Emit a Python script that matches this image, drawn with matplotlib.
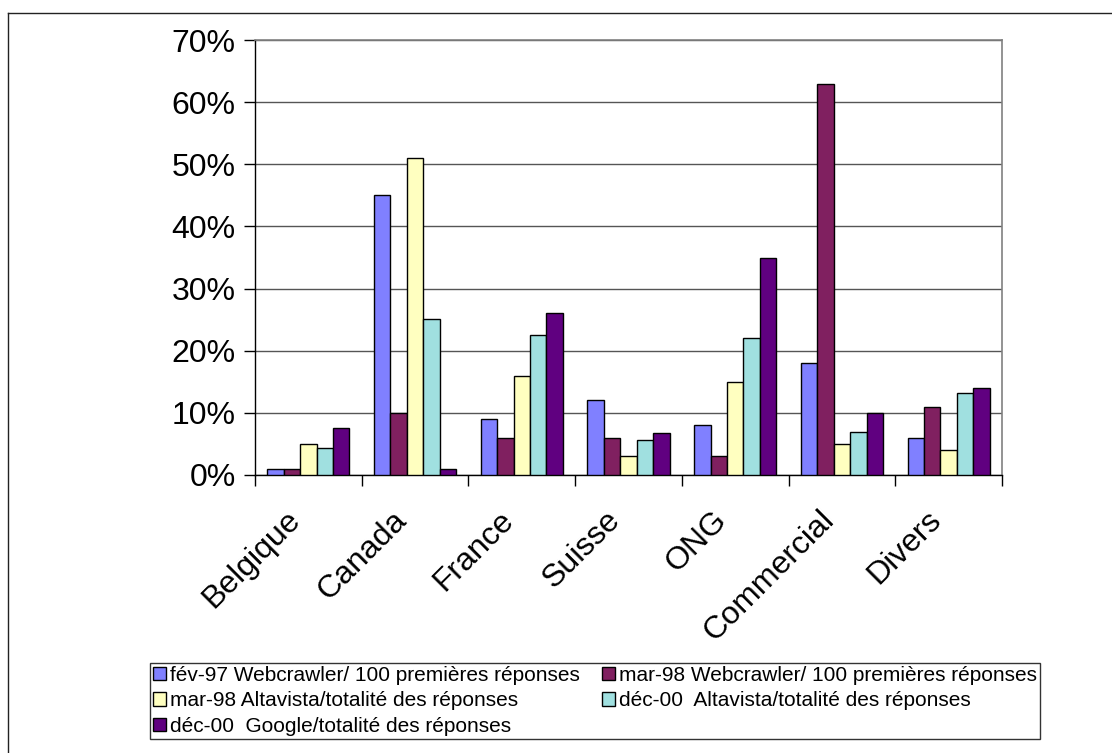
import matplotlib
matplotlib.use("Agg")
import matplotlib.pyplot as plt
import matplotlib.transforms as mtransforms
import numpy as np
from matplotlib.patches import Patch
from matplotlib.lines import Line2D
from matplotlib.ticker import FuncFormatter, MultipleLocator

plt.rcParams['font.family'] = ['Liberation Sans', 'DejaVu Sans']

categories = ["Belgique", "Canada", "France", "Suisse", "ONG", "Commercial", "Divers"]
series_labels = [
    "fév-97 Webcrawler/ 100 premières réponses",
    "mar-98 Webcrawler/ 100 premières réponses",
    "mar-98 Altavista/totalité des réponses",
    "déc-00  Altavista/totalité des réponses",
    "déc-00  Google/totalité des réponses",
]
fev97_webcrawler = [1, 45, 9, 12, 8, 18, 6]
mar98_webcrawler = [1, 10, 6, 6, 3, 63, 11]
mar98_altavista = [5, 51, 16, 3, 15, 5, 4]
dec00_altavista = [4.3, 25.1, 22.6, 5.6, 22, 7, 13.2]
dec00_google = [7.5, 1, 26, 6.8, 35, 10, 14]
series_values = [fev97_webcrawler, mar98_webcrawler, mar98_altavista,
                 dec00_altavista, dec00_google]
colors = ["#8080FF", "#802060", "#FFFFC0", "#A0E0E0", "#600080"]

W, H = 1112, 753
fig = plt.figure(figsize=(W / 100, H / 100), dpi=100)
fig.patch.set_facecolor("white")

# outer chart frame (top and left edges)
fig.add_artist(Line2D([8 / W, 1.0], [1 - 13 / H, 1 - 13 / H], color="#222222", lw=1.0))
fig.add_artist(Line2D([8 / W, 8 / W], [1 - 13 / H, 0.0], color="#222222", lw=1.0))

ax = fig.add_axes([255 / W, 1 - 475 / H, (1002 - 255) / W, (475 - 40) / H])

n = len(series_values)
bar_w = 1.0 / (n + 1.5)
x = np.arange(len(categories))
for i, (vals, col) in enumerate(zip(series_values, colors)):
    offs = (i - (n - 1) / 2) * bar_w
    ax.bar(x + offs, vals, width=bar_w, color=col, edgecolor="black",
           linewidth=1.0, zorder=3)

ax.set_xlim(-0.5, len(categories) - 0.5)
ax.set_ylim(0, 70)
ax.yaxis.set_major_locator(MultipleLocator(10))
ax.yaxis.set_major_formatter(FuncFormatter(lambda v, p: f"{int(round(v))}%"))
ax.grid(axis="y", color="#555555", linewidth=1.0, zorder=1)
ax.set_axisbelow(True)

ax.set_xticks(x)
ax.set_xticklabels(categories, rotation=45, ha="right", va="top",
                   rotation_mode="anchor", fontsize=23)
ax.tick_params(axis="x", which="major", length=0, pad=0)
shift = mtransforms.ScaledTranslation(-23 / 100, -30 / 100, fig.dpi_scale_trans)
for lab in ax.get_xticklabels():
    lab.set_transform(lab.get_transform() + shift)
ax.set_xticks(np.arange(-0.5, len(categories), 1.0), minor=True)
ax.tick_params(axis="x", which="minor", length=8, width=1.0, direction="out",
               color="black")
ax.tick_params(axis="y", labelsize=23, length=8, width=1.0, direction="out",
               pad=6)

for s in ["top", "right"]:
    ax.spines[s].set_color("#808080")
    ax.spines[s].set_linewidth(1.2)
for s in ["left", "bottom"]:
    ax.spines[s].set_color("black")
    ax.spines[s].set_linewidth(1.0)

handles = [Patch(facecolor=c, edgecolor="black", linewidth=1.0) for c in colors]
order = [0, 2, 4, 1, 3]
leg = fig.legend([handles[i] for i in order], [series_labels[i] for i in order],
                 ncol=2, loc="upper left",
                 bbox_to_anchor=(150 / W, 1 - 740 / H, (1040 - 150) / W, (740 - 663) / H),
                 mode="expand", borderaxespad=0, fontsize=15,
                 handlelength=0.6, handleheight=0.6, handletextpad=0.2,
                 labelspacing=0.3, borderpad=0.15, columnspacing=1.0,
                 frameon=True, fancybox=False, edgecolor="black")
leg.get_frame().set_linewidth(1.0)

fig.savefig("out.png", dpi=100, facecolor="white")
